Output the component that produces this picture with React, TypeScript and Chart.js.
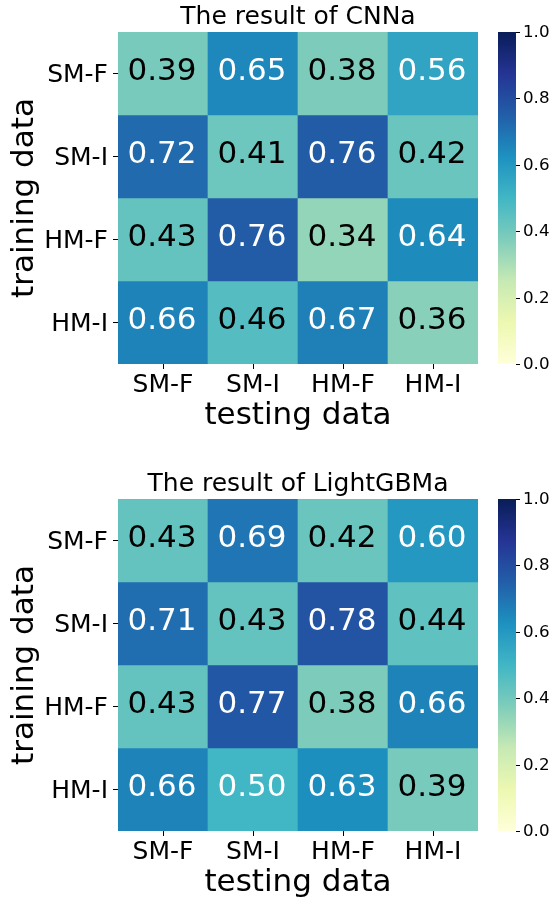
import React, { useEffect, useRef } from "react";
import { Chart, registerables } from "chart.js";

Chart.register(...registerables);

// Axis categories
const testingLabels = ["SM-F", "SM-I", "HM-F", "HM-I"];
const trainingLabels = ["SM-F", "SM-I", "HM-F", "HM-I"];

// Accuracy matrices: one row per training set, one column per testing set
const cnnaSmF = [0.39, 0.65, 0.38, 0.56];
const cnnaSmI = [0.72, 0.41, 0.76, 0.42];
const cnnaHmF = [0.43, 0.76, 0.34, 0.64];
const cnnaHmI = [0.66, 0.46, 0.67, 0.36];

const lgbmSmF = [0.43, 0.69, 0.42, 0.6];
const lgbmSmI = [0.71, 0.43, 0.78, 0.44];
const lgbmHmF = [0.43, 0.77, 0.38, 0.66];
const lgbmHmI = [0.66, 0.5, 0.63, 0.39];

// Colour bar ticks
const colorbarTicks = [0, 0.2, 0.4, 0.6, 0.8, 1.0];

const FONT = "'DejaVu Sans', sans-serif";

// YlGnBu colour stops (evenly spaced from 0 to 1)
const YLGNBU = [
  "#ffffd9",
  "#edf8b1",
  "#c7e9b4",
  "#7fcdbb",
  "#41b6c4",
  "#1d91c0",
  "#225ea8",
  "#253494",
  "#081d58",
];

function hexToRgb(h: string): number[] {
  const n = parseInt(h.slice(1), 16);
  return [(n >> 16) & 255, (n >> 8) & 255, n & 255];
}

function colorFor(v: number): number[] {
  const p = Math.min(Math.max(v, 0), 1) * (YLGNBU.length - 1);
  const i = Math.min(Math.floor(p), YLGNBU.length - 2);
  const t = p - i;
  const a = hexToRgb(YLGNBU[i]);
  const b = hexToRgb(YLGNBU[i + 1]);
  return a.map((c, k) => Math.round(c + (b[k] - c) * t));
}

function rgbString(c: number[]): string {
  return `rgb(${c[0]},${c[1]},${c[2]})`;
}

// Dark text on light cells, white text on dark cells
function textColorFor(v: number): string {
  const lin = colorFor(v).map((c) => {
    const s = c / 255;
    return s <= 0.03928 ? s / 12.92 : Math.pow((s + 0.055) / 1.055, 2.4);
  });
  const lum = 0.2126 * lin[0] + 0.7152 * lin[1] + 0.0722 * lin[2];
  return lum > 0.408 ? "#000000" : "#ffffff";
}

const W = 549;
const H = 467;

function Heatmap({ title, rows }: { title: string; rows: number[][] }) {
  const ref = useRef<HTMLCanvasElement | null>(null);

  useEffect(() => {
    if (!ref.current) return;

    const cellText = {
      id: "cellText",
      afterDatasetsDraw(chart: any) {
        const ctx = chart.ctx;
        ctx.save();
        ctx.font = `31px ${FONT}`;
        ctx.textAlign = "center";
        ctx.textBaseline = "middle";
        rows.forEach((vals, r) => {
          const meta = chart.getDatasetMeta(r);
          meta.data.forEach((bar: any, i: number) => {
            const { x, y, base } = bar.getProps(["x", "y", "base"], true);
            ctx.fillStyle = textColorFor(vals[i]);
            ctx.fillText(vals[i].toFixed(2), x - 1, (y + base) / 2 - 1.5);
          });
        });
        ctx.restore();
      },
    };

    const colorbar = {
      id: "colorbar",
      afterDraw(chart: any) {
        const ctx = chart.ctx;
        const cb = chart.scales.cb;
        const left = chart.chartArea.right + 20;
        const w = 18;
        const top = cb.getPixelForValue(1);
        const bottom = cb.getPixelForValue(0);
        ctx.save();
        const grad = ctx.createLinearGradient(0, bottom, 0, top);
        YLGNBU.forEach((c, i) => grad.addColorStop(i / (YLGNBU.length - 1), c));
        ctx.fillStyle = grad;
        ctx.fillRect(left, top, w, bottom - top);
        ctx.strokeStyle = "#000";
        ctx.lineWidth = 1;
        ctx.fillStyle = "#000";
        ctx.font = `16.7px ${FONT}`;
        ctx.textAlign = "left";
        ctx.textBaseline = "middle";
        colorbarTicks.forEach((t) => {
          const y = Math.round(cb.getPixelForValue(t)) + 0.5;
          ctx.beginPath();
          ctx.moveTo(left + w, y);
          ctx.lineTo(left + w + 4, y);
          ctx.stroke();
          ctx.fillText(t.toFixed(1), left + w + 7, y);
        });
        ctx.restore();
      },
    };

    const chart = new Chart(ref.current, {
      type: "bar",
      data: {
        labels: testingLabels,
        datasets: rows.map((vals, r) => ({
          label: trainingLabels[r],
          data: vals.map(() => [r, r + 1]),
          backgroundColor: vals.map((v) => rgbString(colorFor(v))),
          borderWidth: 0,
          grouped: false,
          barPercentage: 1,
          categoryPercentage: 1,
        })) as any,
      },
      options: {
        responsive: false,
        animation: false,
        layout: { padding: { left: 0, right: 71, top: 0, bottom: 31 } },
        plugins: {
          legend: { display: false },
          tooltip: { enabled: false },
          title: {
            display: true,
            text: title,
            fullSize: false,
            color: "#000",
            font: { family: FONT, size: 25, weight: "normal" },
            padding: { top: 2, bottom: 0 },
          },
        },
        scales: {
          x: {
            type: "category",
            offset: true,
            border: { display: false },
            grid: {
              display: true,
              drawOnChartArea: false,
              drawTicks: true,
              tickLength: 5,
              color: "#000",
              lineWidth: 1,
              offset: false,
            },
            ticks: {
              color: "#000",
              font: { family: FONT, size: 25 },
              padding: 1,
              maxRotation: 0,
              autoSkip: false,
            },
            title: {
              display: true,
              text: "testing data",
              color: "#000",
              font: { family: FONT, size: 31 },
              padding: { top: 0, bottom: 1.4 },
            },
            afterFit: (s: any) => {
              s.height = 72;
            },
          },
          y: {
            type: "linear",
            min: 0,
            max: 4,
            reverse: true,
            border: { display: false },
            afterBuildTicks: (s: any) => {
              s.ticks = trainingLabels.map((_, i) => ({ value: i + 0.5 }));
            },
            grid: {
              display: true,
              drawOnChartArea: false,
              drawTicks: true,
              tickLength: 5,
              color: "#000",
              lineWidth: 1,
            },
            ticks: {
              color: "#000",
              font: { family: FONT, size: 25 },
              padding: 5,
              labelOffset: 1.5,
              callback: (v: any) => trainingLabels[Math.floor(Number(v))],
            },
            title: {
              display: true,
              text: "training data",
              color: "#000",
              font: { family: FONT, size: 31 },
              padding: { top: 6.4, bottom: 0 },
            },
            afterFit: (s: any) => {
              s.width = 118;
            },
          },
          cb: {
            type: "linear",
            display: false,
            position: "right",
            min: 0,
            max: 1,
          },
        },
      } as any,
      plugins: [cellText, colorbar],
    });

    return () => chart.destroy();
  }, [title, rows]);

  return (
    <div style={{ width: W, height: H }}>
      <canvas ref={ref} width={W} height={H} style={{ display: "block" }} />
    </div>
  );
}

const cnnaRows = [cnnaSmF, cnnaSmI, cnnaHmF, cnnaHmI];
const lgbmRows = [lgbmSmF, lgbmSmI, lgbmHmF, lgbmHmI];

export default function App() {
  return (
    <div
      style={{
        position: "fixed",
        left: 0,
        top: 0,
        width: 549,
        height: 903,
        overflow: "hidden",
        background: "#fff",
      }}
    >
      <Heatmap title="The result of CNNa" rows={cnnaRows} />
      <Heatmap title="The result of LightGBMa" rows={lgbmRows} />
    </div>
  );
}
